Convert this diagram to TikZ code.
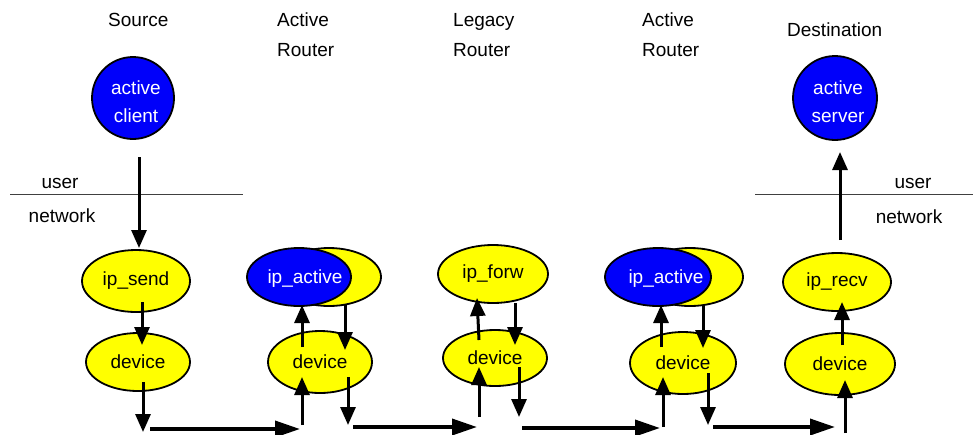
\documentclass[tikz,border=0pt]{standalone}
\usepackage{fontspec}
\setmainfont{Liberation Sans}
\usetikzlibrary{shapes.geometric,arrows.meta,calc}
\definecolor{hostblue}{RGB}{0,0,250}
\definecolor{procyellow}{RGB}{255,255,0}

\begin{document}
\begin{tikzpicture}[x=1pt,y=-1pt,
  font=\fontsize{19}{30}\selectfont,
  host/.style={circle,draw=black,line width=1.8pt,fill=hostblue,inner sep=0pt,minimum size=#1},
  proc/.style 2 args={ellipse,draw=black,line width=1.8pt,fill=procyellow,inner sep=0pt,
    minimum width=#1,minimum height=#2},
  active/.style 2 args={proc={#1}{#2},fill=hostblue},
  whitetxt/.style={text=white,inner sep=0pt,align=center,font=\fontsize{19}{28}\selectfont},
  heading/.style={anchor=west,align=left,inner sep=0pt},
  plain/.style={inner sep=0pt},
  arr/.style={line width=3pt,-{Triangle[length=18pt,width=15pt]}},
  wire/.style={line width=3.6pt,-{Triangle[length=25pt,width=16pt]}},
  layer/.style={line width=1pt,black!75}
]
\useasboundingbox (0,0) rectangle (973,434);

% column headings
\node[heading] (hsrc) at (108,20) {Source};
\node[heading] (hact1) at (277,35) {Active\\Router};
\node[heading] (hleg) at (453,35) {Legacy\\Router};
\node[heading] (hact2) at (642,35) {Active\\Router};
\node[heading] (hdst) at (787,30) {Destination};

% user / network boundaries
\coordinate (ul1) at (10,194);
\coordinate (ul2) at (243,194);
\coordinate (ur1) at (755,194);
\coordinate (ur2) at (973,194);
\draw[layer] (ul1) -- (ul2);
\draw[layer] (ur1) -- (ur2);
\node[plain] (userL) at (60,183) {user};
\node[plain] (netL) at (62,216) {network};
\node[plain] (userR) at (913,183) {user};
\node[plain] (netR) at (909,217) {network};

% end hosts
\node[host=82] (client) at (133,98) {};
\node[whitetxt] (clientT) at (136,102) {active\\client};
\node[host=84] (server) at (835,98) {};
\node[whitetxt] (serverT) at (838,102) {active\\server};

% source stack
\node[proc={108}{62}] (send) at (136,281) {ip\_send};
\node[proc={104}{58}] (dev1) at (138,362) {device};

% first active router
\node[proc={104}{58}] (ipa1y) at (329,277) {};
\node[active={104}{58}] (ipa1) at (299,277) {};
\node[plain,text=white] (ipa1T) at (305,279) {ip\_active};
\node[proc={104}{62}] (dev2) at (320,362) {device};

% legacy router
\node[proc={110}{58}] (forw) at (493,274) {ip\_forw};
\node[proc={104}{56}] (dev3) at (495,358) {device};

% second active router
\node[proc={106}{58}] (ipa2y) at (690,277) {};
\node[active={106}{58}] (ipa2) at (658,277) {};
\node[plain,text=white] (ipa2T) at (666,279) {ip\_active};
\node[proc={106}{62}] (dev4) at (683,363) {device};

% destination stack
\node[proc={108}{58}] (recv) at (837,282) {ip\_recv};
\node[proc={110}{62}] (dev5) at (840,364) {device};

% free ends of the wire segments
\coordinate (out1) at (143,432);
\coordinate (w1a) at (150,429);
\coordinate (w1b) at (300,429);
\coordinate (in2) at (302,425);
\coordinate (out2) at (348,425);
\coordinate (w2a) at (353,427);
\coordinate (w2b) at (477,427);
\coordinate (in3) at (479,417);
\coordinate (out3) at (519,417);
\coordinate (w3a) at (522,428);
\coordinate (w3b) at (660,428);
\coordinate (in4) at (663,427);
\coordinate (out4) at (708,425);
\coordinate (w4a) at (713,427);
\coordinate (w4b) at (835,427);
\coordinate (in5) at (845,433);

% source
\draw[arr] ($(client)+(6,59)$) -- ($(send)+(3,-33)$);
\draw[arr] ($(send)+(6,21)$) -- ($(dev1)+(4,-17)$);
\draw[arr] ($(dev1)+(5,20)$) -- (out1);
\draw[wire] (w1a) -- (w1b);

% first active router
\draw[arr] (in2) -- ($(dev2)+(-18,15)$);
\draw[arr] ($(dev2)+(-18,-15)$) -- ($(ipa1)+(3,28)$);
\draw[arr] ($(ipa1y)+(16,28)$) -- ($(dev2)+(25,-12)$);
\draw[arr] ($(dev2)+(28,15)$) -- (out2);
\draw[wire] (w2a) -- (w2b);

% legacy router
\draw[arr] (in3) -- ($(dev3)+(-16,9)$);
\draw[arr] ($(dev3)+(-16,-18)$) -- ($(forw)+(-16,24)$);
\draw[arr] ($(forw)+(22,29)$) -- ($(dev3)+(20,-13)$);
\draw[arr] ($(dev3)+(24,9)$) -- (out3);
\draw[wire] (w3a) -- (w3b);

% second active router
\draw[arr] (in4) -- ($(dev4)+(-20,14)$);
\draw[arr] ($(dev4)+(-22,-16)$) -- ($(ipa2)+(3,28)$);
\draw[arr] ($(ipa2y)+(13,28)$) -- ($(dev4)+(20,-15)$);
\draw[arr] ($(dev4)+(25,10)$) -- (out4);
\draw[wire] (w4a) -- (w4b);

% destination
\draw[arr] (in5) -- ($(dev5)+(5,16)$);
\draw[arr] ($(dev5)+(2,-19)$) -- ($(recv)+(5,20)$);
\draw[arr] ($(recv)+(3,-42)$) -- ($(server)+(5,54)$);
\end{tikzpicture}
\end{document}
